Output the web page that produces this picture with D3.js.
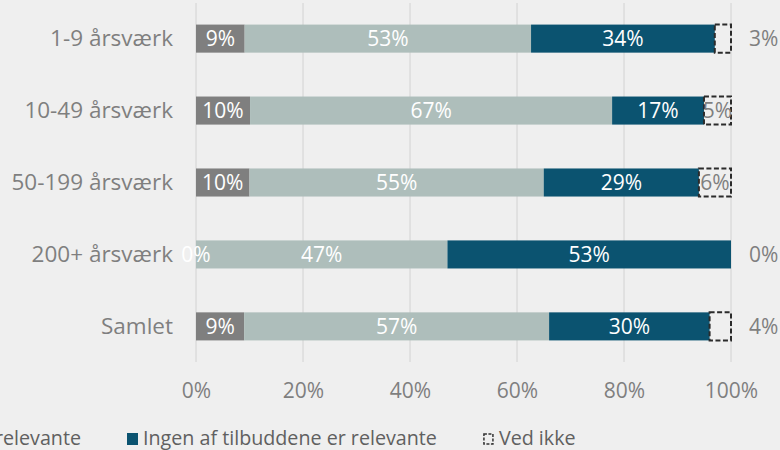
<!DOCTYPE html>
<html>
<head>
<meta charset="utf-8">
<script src="https://cdn.jsdelivr.net/npm/d3@7"></script>
<style>
  html, body { margin: 0; padding: 0; background: #efefef; }
  svg { display: block; }
  text { font-family: "Open Sans", "Noto Sans", sans-serif; }
</style>
</head>
<body>
<svg id="chart" width="780" height="450"></svg>
<script>
const categories = ["1-9 årsværk", "10-49 årsværk", "50-199 årsværk", "200+ årsværk", "Samlet"];
const seriesNames = ["Alle tilbuddene er relevante", "Nogle af tilbuddene er relevante", "Ingen af tilbuddene er relevante", "Ved ikke"];
const alle    = [9, 10, 10, 0, 9];
const nogle   = [53, 67, 55, 47, 57];
const ingen   = [34, 17, 29, 53, 30];
const vedIkke = [3, 5, 6, 0, 4];
const tickValues = [0, 20, 40, 60, 80, 100];
const tickLabels = ["0%", "20%", "40%", "60%", "80%", "100%"];

const colors = ["#7f7f7f", "#aebebb", "#0b5370", "none"];
const seriesValues = [alle, nogle, ingen, vedIkke];

const svg = d3.select("#chart");
const W = 780, H = 450;
svg.append("rect").attr("width", W).attr("height", H).attr("fill", "#efefef");

const x = d3.scaleLinear().domain([0, 100]).range([196, 731]);
const y = d3.scaleBand().domain(categories).range([3, 362]).paddingInner(0.61).paddingOuter(0.3);

// gridlines
svg.append("g").selectAll("line").data(tickValues).join("line")
  .attr("x1", d => x(d)).attr("x2", d => x(d))
  .attr("y1", 3).attr("y2", 362)
  .attr("stroke", "#d9d9d9").attr("stroke-width", 1.3);

// x axis tick labels
const xAxis = d3.axisBottom(x).tickValues(tickValues).tickFormat((d, i) => tickLabels[i]).tickSize(0).tickPadding(0);
const gx = svg.append("g").attr("transform", "translate(0,383)").call(xAxis);
gx.select(".domain").remove();
gx.selectAll("text").attr("fill", "#7f7f7f").attr("font-size", 21).attr("dy", "0.71em")
  .style("font-family", '"Open Sans", sans-serif');

// y axis category labels
const yAxis = d3.axisLeft(y).tickSize(0).tickPadding(0);
const gy = svg.append("g").attr("transform", "translate(173,0)").call(yAxis);
gy.select(".domain").remove();
gy.selectAll("text").attr("fill", "#7f7f7f").attr("font-size", 22.5).attr("dy", "0.35em")
  .style("font-family", '"Open Sans", sans-serif');

// stacked data (normalised to 100%)
const rows = categories.map((c, i) => {
  const vals = seriesValues.map(s => s[i]);
  const total = d3.sum(vals);
  let cum = 0;
  return vals.map((v, k) => {
    const p = v / total * 100;
    const seg = { cat: c, k, v, x0: cum, x1: cum + p };
    cum += p;
    return seg;
  });
});
const segs = rows.flat();

const gBars = svg.append("g");
gBars.selectAll("rect").data(segs.filter(s => s.k < 3)).join("rect")
  .attr("x", d => x(d.x0)).attr("width", d => x(d.x1) - x(d.x0))
  .attr("y", d => y(d.cat)).attr("height", y.bandwidth())
  .attr("fill", d => colors[d.k]);

// Ved ikke dashed boxes
gBars.selectAll("rect.vi").data(segs.filter(s => s.k === 3 && s.v > 0)).join("rect")
  .attr("class", "vi")
  .attr("x", d => x(d.x0)).attr("width", d => x(d.x1) - x(d.x0))
  .attr("y", d => y(d.cat)).attr("height", y.bandwidth())
  .attr("fill", "none").attr("stroke", "#2b2b2b").attr("stroke-width", 2)
  .attr("stroke-dasharray", "5,2.5");

// labels
const gLab = svg.append("g").attr("font-size", 21);
gLab.selectAll("text").data(segs).join("text")
  .attr("x", d => {
    if (d.k === 3 && d.v < 5) return x(100) + 18;
    return (x(d.x0) + x(d.x1)) / 2;
  })
  .attr("y", d => y(d.cat) + y.bandwidth() / 2)
  .attr("dy", "0.35em")
  .attr("text-anchor", d => (d.k === 3 && d.v < 5) ? "start" : "middle")
  .attr("fill", d => d.k === 3 ? "#7f7f7f" : "#ffffff")
  .text(d => d.v + "%");

// legend
const gLeg = svg.append("g").attr("font-size", 19.7);
const items = seriesNames.map((n, i) => ({ n, i }));
const itemG = gLeg.selectAll("g").data(items).join("g");
itemG.append("text").attr("y", 438.5).attr("dy", "0.35em").attr("fill", "#606060").text(d => d.n);
const widths = [];
itemG.select("text").each(function () { widths.push(this.getComputedTextLength()); });
const sq = 11, gap = 5, spacing = 46;
const pos = [];
pos[2] = 127;
pos[3] = pos[2] + sq + gap + widths[2] + spacing;
pos[1] = pos[2] - spacing - widths[1] - gap - sq;
pos[0] = pos[1] - spacing - widths[0] - gap - sq;
itemG.attr("transform", d => `translate(${pos[d.i]},0)`);
itemG.select("text").attr("x", sq + gap);
itemG.append("rect")
  .attr("x", d => d.i === 3 ? 1 : 0).attr("y", d => d.i === 3 ? 434 : 433)
  .attr("width", d => d.i === 3 ? sq - 2 : sq).attr("height", d => d.i === 3 ? 10 : 12)
  .attr("fill", d => d.i === 3 ? "none" : colors[d.i])
  .attr("stroke", d => d.i === 3 ? "#333" : "none")
  .attr("stroke-width", 1.5).attr("stroke-dasharray", "3,1.5");
</script>
</body>
</html>
